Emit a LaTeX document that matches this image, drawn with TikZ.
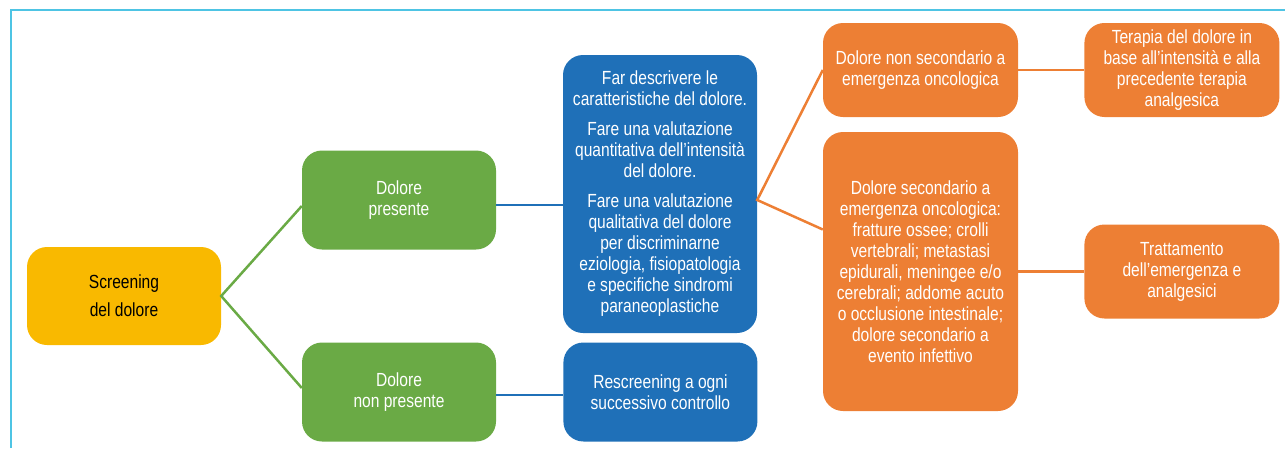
\documentclass[tikz,border=0pt]{standalone}
\usepackage{fontspec}
\setmainfont[FakeStretch=0.82]{Liberation Sans}
\usepackage{tikz}
\usetikzlibrary{positioning}
\definecolor{scryellow}{RGB}{249,185,0}
\definecolor{paingreen}{RGB}{106,170,69}
\definecolor{painblue}{RGB}{31,112,184}
\definecolor{painorange}{RGB}{237,127,52}
\definecolor{framecyan}{RGB}{78,196,228}
\tikzstyle{mybox} = [rectangle, rounded corners=20pt, align=center, text=white, font=\fontsize{19}{21}\selectfont, inner sep=4pt]
\tikzstyle{yellowbox} = [mybox, fill=scryellow, text=black, minimum width=194pt, minimum height=98pt]
\tikzstyle{greenbox} = [mybox, fill=paingreen, minimum width=194pt, minimum height=99pt]
\tikzstyle{bluebox} = [mybox, fill=painblue, minimum width=194pt]
\tikzstyle{orangebox} = [mybox, fill=painorange, minimum width=195pt]
\tikzstyle{link} = [line width=2.5pt]

\begin{document}
\begin{tikzpicture}[x=1pt,y=-1pt]
\useasboundingbox (0,0) rectangle (1285,448);
\draw[framecyan, line width=2pt] (11,448) -- (11,9.5) -- (1285,9.5);

\node[yellowbox] (scr) at (124,296) {Screening\\[7pt]del dolore};
\node[greenbox] (pres) at (399,200) {Dolore\\presente};
\node[greenbox] (nonpres) at (399,392) {Dolore\\non presente};
\node[bluebox, minimum height=278pt] (desc) at (660,194) {%
    Far descrivere le\\caratteristiche del dolore.\\[9pt]
    Fare una valutazione\\quantitativa dell’intensità\\del dolore.\\[9pt]
    Fare una valutazione\\qualitativa del dolore\\per discriminarne\\eziologia, fisiopatologia\\e specifiche sindromi\\paraneoplastiche};
\node[bluebox, minimum height=99pt, right=67pt of nonpres] (rescr) {Rescreening a ogni\\successivo controllo};
\node[orangebox, minimum height=94pt] (nonsec) at (920.5,70) {Dolore non secondario a\\emergenza oncologica};
\node[orangebox, minimum height=279pt] (sec) at (920.5,271.5) {%
    Dolore secondario a\\emergenza oncologica:\\fratture ossee; crolli\\vertebrali; metastasi\\epidurali, meningee e/o\\cerebrali; addome acuto\\o occlusione intestinale;\\dolore secondario a\\evento infettivo};
\node[orangebox, minimum height=94pt, right=66pt of nonsec] (terapia) {Terapia del dolore in\\base all’intensità e alla\\precedente terapia\\analgesica};
\node[orangebox, minimum height=94pt, right=66pt of sec] (tratt) {Trattamento\\dell’emergenza e\\analgesici};

\draw[link, paingreen] ([yshift=-6pt]pres.west) -- (scr.east) -- ([yshift=4pt]nonpres.west);
\draw[link, painblue] ([yshift=-5pt]pres.east) -- ([yshift=-5pt]pres.east -| desc.west);
\draw[link, painblue] ([yshift=-3pt]nonpres.east) -- ([yshift=-3pt]rescr.west);
\draw[link, painorange] (nonsec.west) -- ([yshift=-6pt]desc.east) -- ([yshift=42pt]sec.west);
\draw[link, painorange] (nonsec.east) -- (terapia.west);
\draw[link, painorange] (sec.east) -- (tratt.west);
\end{tikzpicture}
\end{document}
